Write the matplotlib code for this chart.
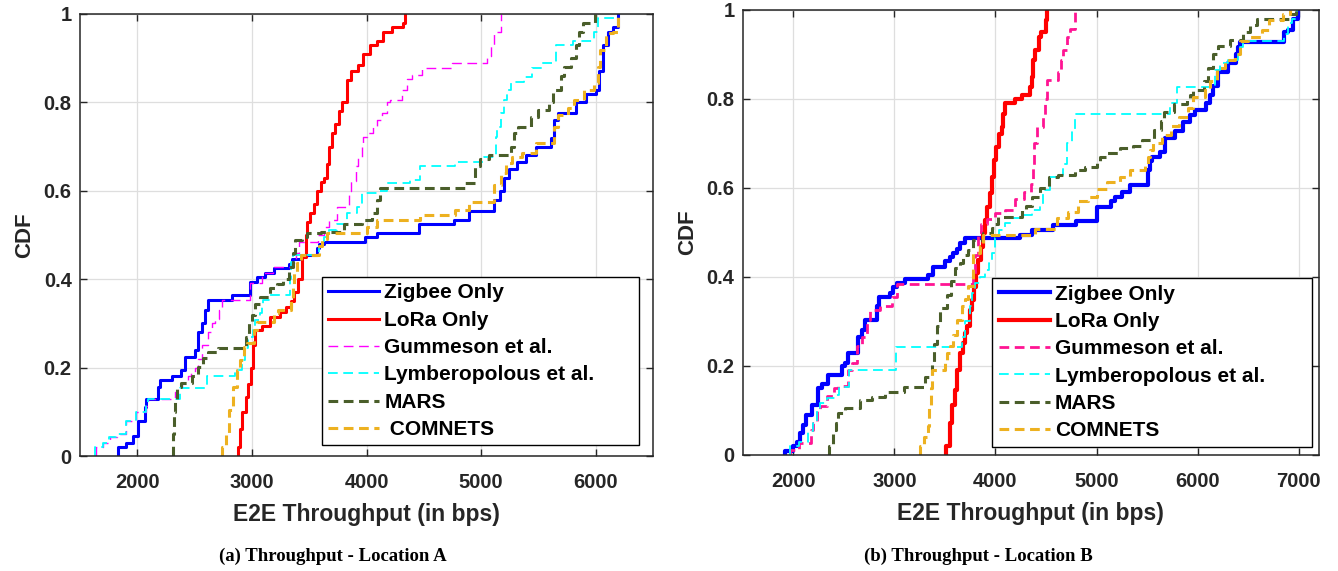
import matplotlib
matplotlib.use("Agg")
import matplotlib.pyplot as plt

# ---------------- data: location A (left panel) ----------------
zig_a_x = [1830, 1830, 1905, 1960, 2005, 2065, 2080, 2180, 2195, 2300, 2385, 2420, 2500, 2530, 2560,
           2590, 2620, 2825, 2985, 3045, 3115, 3190, 3320, 3350, 3425, 3570, 3585, 3630, 3985, 4095,
           4455, 4760, 4890, 5110, 5165, 5200, 5245, 5316, 5390, 5477, 5608, 5637, 5667, 5827, 5915,
           6003, 6030, 6060, 6110, 6150, 6195]
zig_a_y = [0.0, 0.02, 0.03, 0.045, 0.08, 0.11, 0.13, 0.157, 0.172, 0.18, 0.195, 0.225, 0.24, 0.28, 0.30,
           0.33, 0.353, 0.364, 0.394, 0.405, 0.415, 0.425, 0.435, 0.445, 0.455, 0.47, 0.48, 0.485, 0.495, 0.505,
           0.525, 0.535, 0.555, 0.58, 0.60, 0.63, 0.65, 0.665, 0.68, 0.70, 0.72, 0.76, 0.775, 0.80, 0.82,
           0.828, 0.87, 0.93, 0.96, 0.97, 1.0]

lora_a_x = [2875, 2875, 2895, 2915, 2945, 2965, 2990, 3010, 3030, 3088, 3161, 3249, 3300, 3339, 3365,
            3400, 3433, 3468, 3483, 3506, 3541, 3570, 3600, 3630, 3652, 3673, 3702, 3725, 3760, 3790,
            3827, 3862, 3927, 3971, 4029, 4088, 4146, 4219, 4322, 4336]
lora_a_y = [0.0, 0.02, 0.06, 0.10, 0.134, 0.164, 0.20, 0.25, 0.285, 0.295, 0.315, 0.325, 0.338, 0.35, 0.37,
            0.40, 0.45, 0.50, 0.53, 0.55, 0.57, 0.60, 0.62, 0.63, 0.66, 0.70, 0.73, 0.75, 0.78, 0.80,
            0.85, 0.87, 0.885, 0.91, 0.93, 0.94, 0.96, 0.97, 0.98, 1.0]

gum_a_x = [1640, 1640, 1700, 1760, 1820, 1905, 1990, 2080, 2095, 2330, 2345, 2390, 2444, 2470, 2500,
           2530, 2560, 2620, 2650, 2680, 2710, 2740, 2985, 3090, 3180, 3340, 3385, 3410, 3580, 3629,
           3673, 3746, 3820, 3848, 3863, 3906, 3925, 3956, 3971, 4000, 4058, 4088, 4132, 4175, 4205,
           4307, 4351, 4395, 4482, 4746, 5053, 5082, 5111, 5170]
gum_a_y = [0.0, 0.02, 0.03, 0.044, 0.05, 0.08, 0.10, 0.112, 0.13, 0.145, 0.157, 0.166, 0.18, 0.19, 0.20,
           0.22, 0.25, 0.28, 0.30, 0.31, 0.33, 0.353, 0.392, 0.413, 0.428, 0.436, 0.459, 0.485, 0.50, 0.519,
           0.534, 0.564, 0.568, 0.60, 0.623, 0.655, 0.677, 0.70, 0.722, 0.73, 0.745, 0.76, 0.775, 0.80, 0.805,
           0.828, 0.854, 0.862, 0.877, 0.889, 0.905, 0.93, 0.96, 1.0]

lym_a_x = [1630, 1630, 1700, 1757, 1816, 1903, 1991, 2079, 2094, 2371, 2604, 2852, 2910, 2940, 2969,
           3013, 3027, 3071, 3085, 3100, 3158, 3330, 3345, 3360, 3585, 3629, 3673, 3746, 3833, 3920,
           3960, 4102, 4175, 4380, 4468, 4775, 5023, 5126, 5140, 5170, 5199, 5228, 5257, 5374, 5440,
           5530, 5654, 5800, 5985, 6017, 6164]
lym_a_y = [0.0, 0.02, 0.03, 0.044, 0.05, 0.08, 0.10, 0.112, 0.13, 0.153, 0.182, 0.195, 0.217, 0.244, 0.27,
           0.285, 0.308, 0.323, 0.345, 0.353, 0.364, 0.40, 0.44, 0.455, 0.474, 0.496, 0.511, 0.526, 0.549, 0.564,
           0.594, 0.60, 0.617, 0.624, 0.655, 0.666, 0.677, 0.722, 0.745, 0.775, 0.805, 0.828, 0.847, 0.858, 0.877,
           0.888, 0.93, 0.94, 0.96, 0.99, 1.0]

mars_a_x = [2310, 2312, 2322, 2330, 2345, 2385, 2474, 2530, 2575, 2620, 2708, 2945, 2975, 3000, 3030,
            3070, 3160, 3217, 3275, 3320, 3360, 3380, 3440, 3480, 3600, 3800, 3960, 4044, 4094, 4117,
            4863, 4950, 4994, 5067, 5257, 5285, 5320, 5435, 5495, 5590, 5625, 5696, 5725, 5784, 5827,
            5857, 5886, 5990]
mars_a_y = [0.0, 0.05, 0.10, 0.13, 0.157, 0.166, 0.181, 0.202, 0.221, 0.236, 0.244, 0.27, 0.30, 0.32, 0.345,
            0.36, 0.38, 0.39, 0.40, 0.428, 0.459, 0.489, 0.495, 0.504, 0.507, 0.526, 0.534, 0.549, 0.58, 0.606,
            0.617, 0.655, 0.673, 0.681, 0.70, 0.73, 0.745, 0.768, 0.783, 0.80, 0.828, 0.86, 0.88, 0.90, 0.93,
            0.96, 0.98, 1.0]

com_a_x = [2740, 2740, 2770, 2800, 2839, 2870, 2900, 2927, 2960, 3015, 3044, 3190, 3230, 3339, 3355,
           3370, 3390, 3424, 3585, 3615, 3658, 4000, 4088, 4468, 4775, 4892, 5111, 5170, 5213, 5272,
           5360, 5477, 5637, 5667, 5754, 5813, 5900, 5988, 6017, 6040, 6090, 6150, 6193]
com_a_y = [0.0, 0.02, 0.05, 0.104, 0.157, 0.195, 0.217, 0.247, 0.255, 0.285, 0.304, 0.323, 0.33, 0.353, 0.383,
           0.413, 0.436, 0.455, 0.474, 0.492, 0.504, 0.519, 0.534, 0.545, 0.557, 0.575, 0.613, 0.64, 0.662, 0.677,
           0.685, 0.707, 0.745, 0.771, 0.787, 0.805, 0.828, 0.844, 0.88, 0.919, 0.957, 0.96, 1.0]

# ---------------- data: location B (right panel) ----------------
zig_b_x = [1917, 1917, 2000, 2033, 2066, 2092, 2125, 2182, 2248, 2280, 2347, 2478, 2512, 2545, 2644,
           2677, 2710, 2825, 2851, 2957, 2990, 3023, 3106, 3337, 3386, 3500, 3551, 3584, 3617, 3650,
           3700, 4245, 4360, 4570, 4800, 5000, 5140, 5180, 5250, 5330, 5510, 5525, 5545, 5625, 5680,
           5775, 5855, 5920, 5970, 6086, 6120, 6155, 6200, 6300, 6380, 6400, 6420, 6850, 6890, 6945,
           6990]
zig_b_y = [0.0, 0.01, 0.02, 0.03, 0.05, 0.068, 0.09, 0.113, 0.15, 0.16, 0.18, 0.20, 0.206, 0.229, 0.266,
           0.28, 0.304, 0.334, 0.355, 0.365, 0.377, 0.386, 0.395, 0.405, 0.423, 0.435, 0.446, 0.455, 0.464, 0.476,
           0.487, 0.494, 0.506, 0.517, 0.526, 0.558, 0.57, 0.58, 0.59, 0.607, 0.64, 0.66, 0.67, 0.68, 0.712,
           0.727, 0.749, 0.764, 0.775, 0.79, 0.81, 0.83, 0.861, 0.88, 0.90, 0.917, 0.929, 0.95, 0.955, 0.98,
           1.0]

lora_b_x = [3512, 3512, 3551, 3568, 3601, 3624, 3650, 3677, 3700, 3716, 3749, 3772, 3789, 3809, 3832,
            3855, 3875, 3898, 3914, 3941, 3964, 3987, 4007, 4030, 4063, 4079, 4096, 4195, 4261, 4343,
            4360, 4376, 4393, 4426, 4449, 4502, 4508]
lora_b_y = [0.0, 0.02, 0.072, 0.113, 0.147, 0.191, 0.229, 0.251, 0.274, 0.289, 0.326, 0.349, 0.378, 0.408, 0.438,
            0.468, 0.498, 0.528, 0.558, 0.588, 0.625, 0.663, 0.693, 0.722, 0.737, 0.767, 0.79, 0.801, 0.809, 0.827,
            0.85, 0.887, 0.91, 0.94, 0.951, 0.977, 1.0]

gum_b_x = [1970, 1970, 2056, 2175, 2200, 2231, 2265, 2330, 2400, 2445, 2540, 2580, 2630, 2680, 2726,
           2760, 2860, 2980, 3025, 3780, 3800, 3830, 3860, 3915, 4000, 4095, 4195, 4280, 4350, 4370,
           4385, 4406, 4475, 4490, 4508, 4620, 4653, 4670, 4703, 4736, 4785]
gum_b_y = [0.0, 0.012, 0.027, 0.057, 0.072, 0.098, 0.11, 0.132, 0.15, 0.154, 0.191, 0.206, 0.244, 0.266, 0.304,
           0.326, 0.334, 0.356, 0.384, 0.40, 0.45, 0.50, 0.52, 0.53, 0.543, 0.55, 0.575, 0.59, 0.61, 0.65,
           0.70, 0.737, 0.764, 0.80, 0.842, 0.861, 0.887, 0.909, 0.939, 0.958, 1.0]

lym_b_x = [1967, 1967, 2060, 2150, 2200, 2235, 2264, 2330, 2412, 2450, 2550, 3016, 3670, 3700, 3749,
           3770, 3800, 3848, 3898, 3940, 3964, 3997, 4030, 4096, 4150, 4277, 4360, 4440, 4472, 4538,
           4600, 4670, 4703, 4752, 4785, 5726, 5792, 6170, 6220, 6300, 6400, 6419, 6452, 6850, 6890,
           6930, 6980]
lym_b_y = [0.0, 0.02, 0.03, 0.053, 0.072, 0.10, 0.117, 0.128, 0.135, 0.153, 0.191, 0.242, 0.266, 0.30, 0.334,
           0.363, 0.386, 0.401, 0.416, 0.431, 0.453, 0.487, 0.506, 0.521, 0.532, 0.54, 0.55, 0.565, 0.595, 0.625,
           0.629, 0.655, 0.70, 0.73, 0.767, 0.79, 0.827, 0.865, 0.88, 0.887, 0.902, 0.917, 0.93, 0.947, 0.97,
           0.98, 1.0]

mars_b_x = [2350, 2350, 2395, 2420, 2446, 2510, 2660, 2780, 2910, 3095, 3300, 3370, 3390, 3420, 3450,
            3520, 3560, 3600, 3650, 3680, 3730, 3780, 3880, 3970, 4000, 4025, 4265, 4300, 4360, 4440,
            4530, 4620, 4785, 4885, 5000, 5030, 5100, 5230, 5360, 5450, 5565, 5640, 5670, 5770, 5890,
            5920, 5950, 6060, 6100, 6150, 6200, 6320, 6445, 6515, 6590, 6900, 6970]
mars_b_y = [0.0, 0.02, 0.057, 0.072, 0.094, 0.105, 0.124, 0.131, 0.142, 0.152, 0.175, 0.21, 0.25, 0.29, 0.33,
            0.36, 0.39, 0.42, 0.431, 0.45, 0.461, 0.483, 0.498, 0.51, 0.52, 0.535, 0.55, 0.56, 0.58, 0.60,
            0.625, 0.629, 0.64, 0.648, 0.66, 0.67, 0.678, 0.69, 0.695, 0.708, 0.73, 0.75, 0.771, 0.788, 0.80,
            0.81, 0.82, 0.84, 0.87, 0.90, 0.92, 0.933, 0.95, 0.966, 0.98, 0.99, 1.0]

com_b_x = [3255, 3255, 3290, 3330, 3345, 3360, 3370, 3500, 3525, 3550, 3580, 3620, 3670, 3700, 3730,
           3780, 3850, 3880, 4390, 4610, 4720, 4820, 4920, 5000, 5100, 5230, 5330, 5480, 5510, 5525,
           5560, 5650, 5740, 5820, 5900, 5950, 6070, 6120, 6190, 6270, 6370, 6420, 6500, 6640, 6710,
           6840, 6917]
com_b_y = [0.0, 0.02, 0.04, 0.064, 0.11, 0.15, 0.191, 0.206, 0.23, 0.244, 0.27, 0.304, 0.334, 0.35, 0.38,
           0.453, 0.47, 0.494, 0.507, 0.532, 0.547, 0.57, 0.58, 0.597, 0.614, 0.625, 0.64, 0.655, 0.67, 0.685,
           0.70, 0.72, 0.74, 0.76, 0.78, 0.805, 0.82, 0.84, 0.869, 0.888, 0.90, 0.93, 0.94, 0.955, 0.978,
           0.99, 1.0]

labels_a = ['Zigbee Only', 'LoRa Only', 'Gummeson et al.', 'Lymberopolous et al.', 'MARS', ' COMNETS']
labels_b = ['Zigbee Only', 'LoRa Only', 'Gummeson et al.', 'Lymberopolous et al.', 'MARS', 'COMNETS']
yticks = [0, 0.2, 0.4, 0.6, 0.8, 1]
ytick_labels = ['0', '0.2', '0.4', '0.6', '0.8', '1']

plt.rcParams['font.family'] = ['Liberation Sans', 'DejaVu Sans']
plt.rcParams['font.weight'] = 'bold'
plt.rcParams['lines.scale_dashes'] = False

DARK = '#262626'
DASH = (0, (7, 4))


def draw_panel(ax, curves, labels, xlim, xticks):
    """plot the six CDF step curves and dress the axes MATLAB style"""
    for (x, y, color, lw, ls), lab in zip(curves, labels):
        ax.plot(x, y, drawstyle='steps-post', color=color, lw=lw, linestyle=ls, label=lab)
    ax.set_xlim(xlim)
    ax.set_ylim(0, 1)
    ax.set_xticks(xticks)
    ax.set_yticks(yticks)
    ax.set_yticklabels(ytick_labels)
    ax.grid(True, color='#dedede', lw=0.9)
    ax.set_axisbelow(True)
    ax.tick_params(direction='in', top=True, right=True, length=5, width=1,
                   color=DARK, labelcolor=DARK, labelsize=14.5)
    ax.tick_params(axis='x', pad=12)
    ax.tick_params(axis='y', pad=6)
    for lbl in ax.get_xticklabels() + ax.get_yticklabels():
        lbl.set_fontweight('bold')
    for sp in ax.spines.values():
        sp.set_color(DARK)
        sp.set_linewidth(1.1)
    ax.set_xlabel('E2E Throughput (in bps)', fontsize=16.5, fontweight='bold', color=DARK, labelpad=8)
    ax.set_ylabel('CDF', fontsize=16, fontweight='bold', color=DARK, labelpad=6)


fig = plt.figure(figsize=(13.38, 5.71), dpi=100)
ax_a = fig.add_axes([0.0598, 0.2014, 0.4283, 0.7741])
ax_b = fig.add_axes([0.5551, 0.2032, 0.4307, 0.7793])

curves_a = [
    (zig_a_x, zig_a_y, '#0000ff', 2.2, '-'),
    (lora_a_x, lora_a_y, '#ff0000', 2.2, '-'),
    (gum_a_x, gum_a_y, '#ff00ff', 1.0, DASH),
    (lym_a_x, lym_a_y, '#00ffff', 1.3, DASH),
    (mars_a_x, mars_a_y, '#4a5e2a', 2.2, DASH),
    (com_a_x, com_a_y, '#edb120', 2.2, DASH),
]
curves_b = [
    (zig_b_x, zig_b_y, '#0000ff', 3.0, '-'),
    (lora_b_x, lora_b_y, '#ff0000', 3.0, '-'),
    (gum_b_x, gum_b_y, '#ff1493', 2.0, DASH),
    (lym_b_x, lym_b_y, '#00ffff', 1.3, DASH),
    (mars_b_x, mars_b_y, '#4a5e2a', 2.2, DASH),
    (com_b_x, com_b_y, '#edb120', 2.2, DASH),
]

draw_panel(ax_a, curves_a, labels_a, (1500, 6500), [2000, 3000, 4000, 5000, 6000])
draw_panel(ax_b, curves_b, labels_b, (1500, 7200), [2000, 3000, 4000, 5000, 6000, 7000])

for ax, box in ((ax_a, (0.422, 0.024, 0.553, 0.376)), (ax_b, (0.433, 0.019, 0.554, 0.376))):
    leg = ax.legend(loc='lower left', bbox_to_anchor=box, mode='expand', borderaxespad=0,
                    fontsize=15, handlelength=2.45, handletextpad=0.25, labelspacing=0.4,
                    borderpad=0.3, fancybox=False, framealpha=1, edgecolor='#000000')
    leg.get_frame().set_linewidth(1.0)
    for t in leg.get_texts():
        t.set_fontweight('bold')
        t.set_color('#000000')

fig.text(333 / 1338, 1 - 556 / 571, '(a) Throughput - Location A', ha='center', va='center',
         family='Liberation Serif', fontweight='bold', fontsize=13.5)
fig.text(978 / 1338, 1 - 556 / 571, '(b) Throughput - Location B', ha='center', va='center',
         family='Liberation Serif', fontweight='bold', fontsize=13.5)

fig.savefig('out.png', dpi=100)
